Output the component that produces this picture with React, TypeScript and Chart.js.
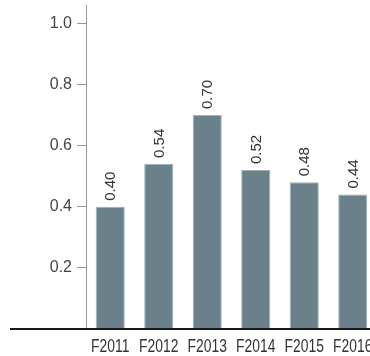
import React, { useEffect, useRef } from "react";
import { Chart, registerables } from "chart.js";

Chart.register(...registerables);

const categories = ["F2011", "F2012", "F2013", "F2014", "F2015", "F2016"];
const values = [0.4, 0.54, 0.7, 0.52, 0.48, 0.44];
const yTicks = [0.2, 0.4, 0.6, 0.8, 1.0];

const FONT = "'Liberation Sans', Arial, sans-serif";

const barLabelPlugin = {
  id: "barLabels",
  afterDatasetsDraw(chart: any) {
    const ctx = chart.ctx;
    const meta = chart.getDatasetMeta(0);
    ctx.save();
    ctx.font = `15px ${FONT}`;
    ctx.fillStyle = "#333333";
    ctx.textAlign = "left";
    ctx.textBaseline = "middle";
    meta.data.forEach((bar: any, i: number) => {
      ctx.save();
      ctx.translate(bar.x + 1, bar.y - 6);
      ctx.rotate(-Math.PI / 2);
      ctx.fillText(values[i].toFixed(2), 0, 0);
      ctx.restore();
    });
    ctx.restore();
  },
};

// condensed category labels, placed with the x scale
const xLabelPlugin = {
  id: "xLabels",
  afterDraw(chart: any) {
    const ctx = chart.ctx;
    const xs = chart.scales.x;
    ctx.save();
    ctx.font = `18px ${FONT}`;
    ctx.fillStyle = "#333333";
    ctx.textAlign = "center";
    ctx.textBaseline = "alphabetic";
    categories.forEach((c, i) => {
      const x = xs.getPixelForTick(i);
      ctx.save();
      ctx.translate(x, xs.bottom - 4);
      ctx.scale(0.77, 1);
      ctx.fillText(c, 0, 0);
      ctx.restore();
    });
    ctx.restore();
  },
};

const baselinePlugin = {
  id: "baseline",
  afterDraw(chart: any) {
    const ctx = chart.ctx;
    const y = chart.scales.y.getPixelForValue(0);
    ctx.save();
    ctx.fillStyle = "#1a1a1a";
    ctx.fillRect(10, Math.round(y) - 1, chart.width, 2);
    ctx.restore();
  },
};

export default function App() {
  const ref = useRef<HTMLCanvasElement | null>(null);
  useEffect(() => {
    if (!ref.current) return;
    const chart = new Chart(ref.current, {
      type: "bar",
      data: {
        labels: categories,
        datasets: [
          {
            data: values,
            backgroundColor: "#6a818c",
            borderColor: "#9fb1b9",
            borderWidth: 1,
            barPercentage: 0.6,
            categoryPercentage: 1,
          },
        ],
      },
      options: {
        animation: false,
        responsive: false,
        maintainAspectRatio: false,
        layout: { padding: { top: 5, right: 0, left: 0, bottom: 0 } },
        plugins: { legend: { display: false }, tooltip: { enabled: false } },
        scales: {
          x: {
            grid: { display: false },
            border: { display: false },
            ticks: { display: false },
            afterFit(scale: any) {
              scale.height = 27;
              scale.paddingLeft = 0;
              scale.paddingRight = 0;
            },
          },
          y: {
            min: 0,
            max: 1.06,
            border: { display: true, color: "#999999", width: 1 },
            grid: {
              drawOnChartArea: false,
              drawTicks: true,
              tickLength: 9,
              color: "#999999",
            },
            ticks: {
              font: { family: FONT, size: 16 },
              color: "#444444",
              padding: 5,
              callback: (v: any) => Number(v).toFixed(1),
            },
            afterBuildTicks(scale: any) {
              scale.ticks = yTicks.map((v) => ({ value: v }));
            },
            afterFit(scale: any) {
              scale.width = 86;
              scale.paddingTop = 0;
              scale.paddingBottom = 0;
            },
          },
        },
      },
      plugins: [barLabelPlugin, xLabelPlugin, baselinePlugin],
    });
    return () => chart.destroy();
  }, []);

  return (
    <div
      style={{
        position: "fixed",
        left: 0,
        top: 0,
        width: 370,
        height: 356,
        overflow: "hidden",
        background: "#ffffff",
      }}
    >
      <canvas ref={ref} width={377} height={356} style={{ display: "block" }} />
    </div>
  );
}
